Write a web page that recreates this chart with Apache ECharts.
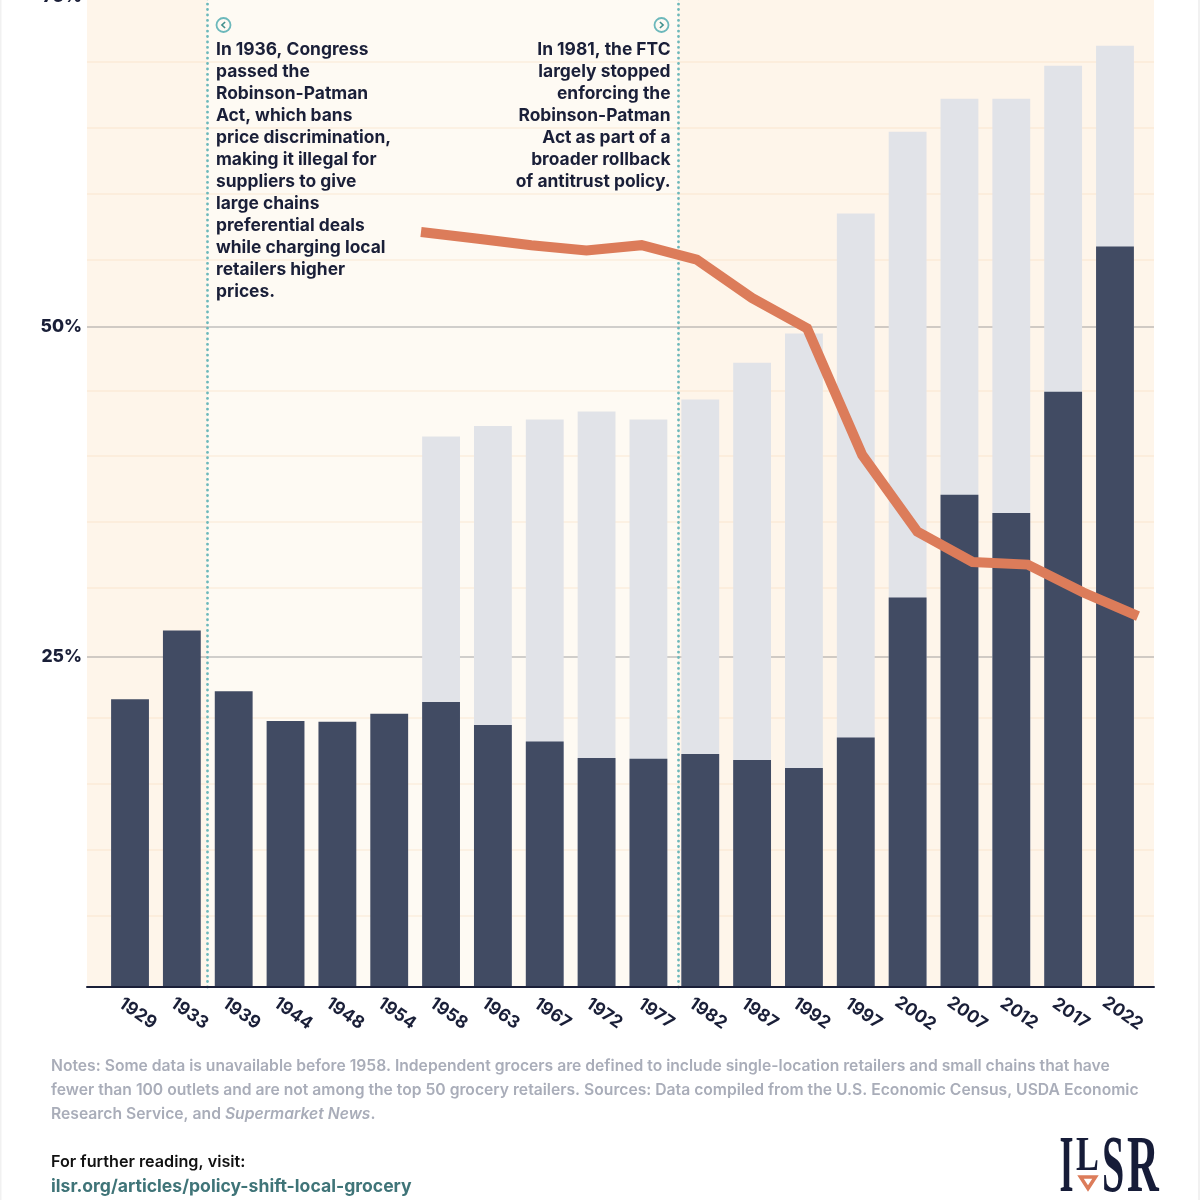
<!DOCTYPE html>
<html>
<head>
<meta charset="utf-8">
<script src="https://cdn.jsdelivr.net/npm/echarts@6/dist/echarts.min.js"></script>
<style>html,body{margin:0;padding:0;background:#fff}#c{width:1200px;height:1200px}</style>
</head>
<body>
<div id="c"></div>
<script>
const years = ['1929','1933','1939','1944','1948','1954','1958','1963','1967','1972','1977','1982','1987','1992','1997','2002','2007','2012','2017','2022'];
const darkShare = [21.8,27.0,22.4,20.15,20.1,20.7,21.6,19.85,18.6,17.35,17.3,17.65,17.2,16.6,18.9,29.5,37.3,35.9,45.1,56.1];
const lightShare = [null,null,null,null,null,null,41.7,42.5,43.0,43.6,43.0,44.5,47.3,49.5,58.6,64.8,67.3,67.3,69.8,71.3];
const lineYears = ['1958','1963','1967','1972','1977','1982','1987','1992','1997','2002','2007','2012','2017','2022'];
const lineShare = [57.2,56.7,56.2,55.8,56.2,55.1,52.2,49.9,40.3,34.5,32.2,32.0,29.9,28.1];
const policyYears = [1936,1981];
const majorTicks = [25,50];
const minorRules = [5.38,10.38,15.38,20.38,30.23,35.23,40.23,45.2,55.08,60.08,65.08,70.08];
const noteLeft = ['In 1936, Congress','passed the','Robinson-Patman','Act, which bans','price discrimination,','making it illegal for','suppliers to give','large chains','preferential deals','while charging local','retailers higher','prices.'];
const noteRight = ['In 1981, the FTC','largely stopped','enforcing the','Robinson-Patman','Act as part of a','broader rollback','of antitrust policy.'];
const footnote = '{n|Notes: Some data is unavailable before 1958. Independent grocers are defined to include single-location retailers and small chains that have}\n{n|fewer than 100 outlets and are not among the top 50 grocery retailers. Sources: Data compiled from the U.S. Economic Census, USDA Economic}\n{n|Research Service, and }{i|Supermarket News}{n|.}';
const readingLabel = 'For further reading, visit:';
const readingLink = 'ilsr.org/articles/policy-shift-local-grocery';

const INK='#1a1f38', TEAL='#6cb8bb', ORANGE='#dc7c5a', FONT='Inter';
const yMin=0, yMax=75, xMin=1924.49, xMax=2026.48;
const gridTop=-3, gridH=990;
const chart = echarts.init(document.getElementById('c'), null, {renderer:'canvas'});

function chevron(cx,cy,dir){
  return [
    {type:'circle',shape:{cx,cy,r:7},style:{fill:'transparent',stroke:TEAL,lineWidth:1.8},z:20},
    {type:'polyline',shape:{points:[[cx-dir*1.6,cy-3],[cx+dir*1.6,cy],[cx-dir*1.6,cy+3]]},style:{fill:'none',stroke:'#3f8f8c',lineWidth:1.6},z:20}
  ];
}
function logoLetter(ch,x,y,sx,size){
  return {type:'text',x,y,scaleX:sx,z:20,style:{text:ch,font:'700 '+size+'px "Liberation Serif"',fill:'#161c38',textAlign:'left',textVerticalAlign:'top'}};
}
const annoFont='700 17.4px '+FONT;
const gridBase={top:gridTop,height:gridH,outerBoundsMode:'none',containLabel:false};

chart.setOption({
  animation:false,
  backgroundColor:'#fff',
  grid:[
    {...gridBase,left:87,width:1067,show:true,backgroundColor:'#fef5ea',borderWidth:0},
    {...gridBase,left:104.1,width:1036.8},
    {...gridBase,left:421,width:717}
  ],
  xAxis:[
    {type:'value',gridIndex:0,min:xMin,max:xMax,z:7,
      axisLine:{show:true,onZero:false,lineStyle:{color:INK,width:2}},axisTick:{show:false},axisLabel:{show:false},splitLine:{show:false}},
    {type:'category',gridIndex:1,data:years,
      axisLine:{show:false},axisTick:{show:false},
      axisLabel:{interval:0,rotate:-35,margin:21,align:'center',verticalAlign:'middle',padding:[0,0,0,19],color:INK,fontFamily:FONT,fontWeight:700,fontSize:17.5}},
    {type:'category',gridIndex:2,data:lineYears,boundaryGap:false,show:false}
  ],
  yAxis:[
    {type:'value',gridIndex:0,min:yMin,max:yMax,interval:25,z:3,
      axisLine:{show:false},axisTick:{show:false},
      axisLabel:{margin:5,padding:[6,0,0,0],color:INK,fontFamily:FONT,fontWeight:800,fontSize:17.5,
        formatter:v=>v>0?v+'%':''},
      splitLine:{show:false}},
    {type:'value',gridIndex:1,min:yMin,max:yMax,show:false,splitLine:{show:false}},
    {type:'value',gridIndex:2,min:yMin,max:yMax,show:false,splitLine:{show:false}}
  ],
  series:[
    {type:'line',name:'band',xAxisIndex:0,yAxisIndex:0,data:[],z:1,silent:true,
      markArea:{silent:true,itemStyle:{color:'#fefaf3'},
        data:[[{xAxis:policyYears[0],yAxis:yMin},{xAxis:policyYears[1],yAxis:yMax}]]}},
    {type:'line',name:'minor',xAxisIndex:0,yAxisIndex:0,data:[],z:2,silent:true,
      markLine:{silent:true,symbol:'none',label:{show:false},
        data:minorRules.map(v=>({yAxis:v,lineStyle:{color:'rgba(245,205,165,0.27)',width:1.5,type:'solid'}}))}},
    {type:'bar',name:'light',xAxisIndex:1,yAxisIndex:1,data:lightShare,barWidth:'73%',barGap:'-100%',z:5,itemStyle:{color:'#e1e3e8'}},
    {type:'bar',name:'dark',xAxisIndex:1,yAxisIndex:1,data:darkShare,barWidth:'73%',barGap:'-100%',z:5,itemStyle:{color:'#414b63'}},
    {type:'line',name:'rules',xAxisIndex:0,yAxisIndex:0,data:[],z:6,silent:true,
      markLine:{silent:true,symbol:'none',label:{show:false},
        data:majorTicks.map(v=>({yAxis:v,lineStyle:{color:'rgba(50,52,65,0.3)',width:1.5,type:'solid'}}))
          .concat(policyYears.map(v=>({xAxis:v,lineStyle:{color:TEAL,width:2.8,type:[0.1,5.3],cap:'round'}})))}},
    {type:'line',name:'independent',xAxisIndex:2,yAxisIndex:2,data:lineShare,z:8,symbol:'none',smooth:false,
      lineStyle:{color:ORANGE,width:10,cap:'butt',join:'miter'}}
  ],
  graphic:[
    {type:'rect',shape:{x:0,y:0,width:1.5,height:1200},style:{fill:'#f1f1f1'},z:20},
    {type:'rect',shape:{x:1198,y:0,width:2,height:1200},style:{fill:'#f1f1f1'},z:20},
    ...chevron(223.5,25,-1),
    ...chevron(661.5,25,1),
    {type:'text',x:216,y:39,z:20,style:{text:noteLeft.join('\n'),font:annoFont,lineHeight:22,fill:INK,textAlign:'left'}},
    {type:'text',x:670.5,y:39,z:20,style:{text:noteRight.join('\n'),font:annoFont,lineHeight:22,fill:INK,textAlign:'right'}},
    {type:'text',x:51,y:1054,z:20,style:{text:footnote,fill:'#a9adb9',textAlign:'left',
      rich:{n:{font:'600 15.7px '+FONT,lineHeight:24,fill:'#a9adb9'},i:{font:'italic 600 15.7px '+FONT,lineHeight:24,fill:'#a9adb9'}}}},
    {type:'text',x:51,y:1154,z:20,style:{text:readingLabel,font:'600 16.2px '+FONT,fill:'#111',textAlign:'left'}},
    {type:'text',x:51,y:1178,z:20,style:{text:readingLink,font:'700 17.6px '+FONT,fill:'#3f7478',textAlign:'left'}},
    logoLetter('I',1059.5,1130,0.45,80),
    logoLetter('L',1076,1133,0.7,49),
    logoLetter('S',1102,1130,0.5,80),
    logoLetter('R',1127,1130,0.55,80),
    {type:'polygon',shape:{points:[[1080.5,1177],[1095.5,1177],[1088,1188.5]]},style:{fill:'transparent',stroke:ORANGE,lineWidth:3.5,lineJoin:'miter'},z:20}
  ]
});
</script>
</body>
</html>
